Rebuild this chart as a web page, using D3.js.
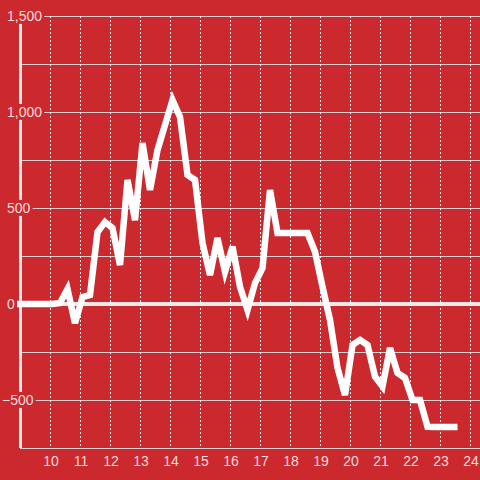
<!DOCTYPE html>
<html><head><meta charset="utf-8">
<script src="https://cdn.jsdelivr.net/npm/d3@7"></script>
<style>html,body{margin:0;padding:0;background:#cc292e;}svg{display:block;font-family:"Liberation Sans",Arial,sans-serif;}</style>
</head><body>
<script>
const times = ["8:50","9:05","9:20","9:35","9:50","10:05","10:20","10:35","10:50","11:05","11:20","11:35","11:50",
"12:05","12:20","12:35","12:50","13:05","13:20","13:35","13:50","14:05","14:20","14:35","14:50",
"15:05","15:20","15:35","15:50","16:05","16:20","16:35","16:50","17:05","17:20","17:35","17:50",
"18:05","18:20","18:35","18:50","19:05","19:20","19:35","19:50","20:05","20:20","20:35","20:50",
"21:05","21:20","21:35","21:50","22:05","22:20","22:35","22:50","23:05","23:20","23:35"];
const values = [0,0,0,0,0,0,5,78,-100,36,47,375,427,
396,203,646,437,838,594,802,932,1062,975,672,646,
318,151,344,168,299,90,-31,109,187,594,370,370,
370,370,370,272,90,-83,-333,-474,-214,-187,-214,-378,
-430,-229,-359,-385,-500,-500,-639,-640,-640,-640,-640];
const xTicks = [10,11,12,13,14,15,16,17,18,19,20,21,22,23,24];
const yTicks = [1500,1000,500,0,-500];
const yGrid = [1500,1250,1000,750,500,250,-250,-500];

const W = 480, H = 480;
const toH = t => { const [h,m] = t.split(":").map(Number); return h + m/60; };
const data = times.map((t,i)=>({h:toH(t), v:values[i]}));

const x = d3.scaleLinear().domain([9,24]).range([20,470]);
const y = d3.scaleLinear().domain([-750,1500]).range([448,16]);

const svg = d3.select("body").append("svg").attr("width",W).attr("height",H);
svg.append("rect").attr("width",W).attr("height",H).attr("fill","#cc292e");

// horizontal gridlines
svg.append("g").selectAll("line").data(yGrid).join("line")
  .attr("x1",20).attr("x2",W).attr("y1",d=>y(d)).attr("y2",d=>y(d))
  .attr("stroke","#cfcfcf").attr("stroke-width",1).attr("shape-rendering","crispEdges");
// vertical dotted gridlines
svg.append("g").selectAll("line").data(xTicks).join("line")
  .attr("x1",d=>Math.round(x(d))+0.5).attr("x2",d=>Math.round(x(d))+0.5)
  .attr("y1",y(1500)).attr("y2",y(-750))
  .attr("stroke","#eeeeee").attr("stroke-width",1).attr("stroke-dasharray","2,2");
// bottom axis line
svg.append("line").attr("x1",20).attr("x2",W).attr("y1",y(-750)+0.5).attr("y2",y(-750)+0.5)
  .attr("stroke","#cfcfcf").attr("stroke-width",1);
// zero line
svg.append("line").attr("x1",16).attr("x2",W).attr("y1",y(0)).attr("y2",y(0))
  .attr("stroke","#f1e9e9").attr("stroke-width",4);
// y axis line
svg.append("line").attr("x1",20.5).attr("x2",20.5).attr("y1",y(1500)).attr("y2",y(-750))
  .attr("stroke","#f1e9e9").attr("stroke-width",3);

// data line
const line = d3.line().x(d=>x(d.h)).y(d=>y(d.v));
svg.append("path").datum(data).attr("d",line).attr("fill","none")
  .attr("stroke","#ffffff").attr("stroke-width",6.5).attr("stroke-linejoin","miter");

// y tick labels with background
const fmt = d3.format(",");
const yl = svg.append("g").selectAll("g").data(yTicks).join("g")
  .attr("transform",d=>`translate(${d<0?2:7},${y(d)})`);
yl.each(function(d){
  const g = d3.select(this);
  const t = g.append("text").text(fmt(d)).attr("dy","0.35em").attr("font-size",14)
    .attr("fill","#f3dcdc");
  const b = t.node().getBBox();
  g.insert("rect","text").attr("x",b.x-2).attr("y",b.y).attr("width",b.width+4).attr("height",b.height)
    .attr("fill","#cc292e");
});

// x tick labels
svg.append("g").selectAll("text").data(xTicks).join("text")
  .attr("x",d=>x(d)+1).attr("y",466).attr("text-anchor","middle").attr("font-size",14)
  .attr("fill","#f3dcdc").text(d=>d);
</script>
</body></html>
